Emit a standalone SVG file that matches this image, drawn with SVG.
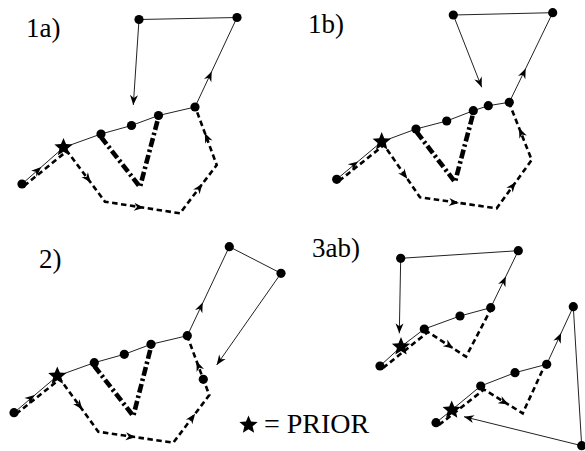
<svg xmlns="http://www.w3.org/2000/svg" xmlns:xlink="http://www.w3.org/1999/xlink" width="585" height="451" viewBox="0 0 585 451">
<style>
.thin{fill:none;stroke:#222;stroke-width:1}
.arrowed{marker-end:url(#arr)}
.dash{fill:none;stroke:#000;stroke-width:2.6;stroke-dasharray:5.5 3.5}
.dd{fill:none;stroke:#000;stroke-width:4.6;stroke-dasharray:9 3 2.5 3}
.ah{fill:none;stroke:none;marker-end:url(#arr)}
.dot{fill:#000}
.star{fill:#000}
</style>
<defs>
<marker id="arr" viewBox="-11 -5 12 10" refX="0" refY="0" markerWidth="12" markerHeight="10" markerUnits="userSpaceOnUse" orient="auto">
<path d="M0,0 L-10,-4 L-7,0 L-10,4 Z" fill="#000"/>
</marker>
<path id="star" d="M0,-8 L2.12,-2.91 L7.61,-2.47 L3.42,1.11 L4.7,6.47 L0,3.6 L-4.7,6.47 L-3.42,1.11 L-7.61,-2.47 L-2.12,-2.91 Z"/>
</defs>

<g id="labels" font-family="Liberation Serif, Times New Roman, DejaVu Serif, serif" font-size="27" fill="#000">
<text x="26" y="37">1a)</text>
<text x="308" y="33">1b)</text>
<text x="39" y="268">2)</text>
<text x="312" y="257">3ab)</text>
</g>

<g id="connectors">
<!-- 1a -->
<path class="thin arrowed" d="M22,184 L63.5,147.5 L101,134 L131.5,125.5 L158.5,115.5 L195,107 L237,17.5 L139,19.5 L133.3,105"/>
<path class="dash" d="M24,186 L67,151 L105,201.7 L180,213.3 L216.7,165 L196,109"/>
<path class="dd" d="M101,137 L140,187 L158.5,117"/>
<path class="ah" d="M40.5,167.8 L41.3,167.1"/>
<path class="ah" d="M211.3,72.3 L211.7,71.4"/>
<path class="ah" d="M90.1,181.8 L90.7,182.6"/>
<path class="ah" d="M143,207.6 L144,207.7"/>
<path class="ah" d="M201.8,184.6 L202.4,183.8"/>
<path class="ah" d="M205.2,133.8 L204.8,132.9"/>
<!-- 1b -->
<path class="thin arrowed" d="M336.7,179.3 L381.7,141.7 L416,129 L446.7,121 L473.3,110.7 L488.3,105.7 L509.3,102.3 L552.7,12.7 L453.3,15 L481.7,87.3"/>
<path class="dash" d="M339,181 L384,145 L420,197.3 L496.7,208.3 L531.7,160 L510,105"/>
<path class="dd" d="M416.7,132 L455,182 L473.3,113"/>
<path class="ah" d="M357.3,162 L358.1,161.4"/>
<path class="ah" d="M525.3,69.3 L525.7,68.4"/>
<path class="ah" d="M406.7,178 L407.3,178.8"/>
<path class="ah" d="M458,202.8 L459,202.9"/>
<path class="ah" d="M515,183 L515.6,182.2"/>
<path class="ah" d="M519.4,128.9 L519,128"/>
<!-- 2 -->
<path class="thin arrowed" d="M14,412.7 L57.3,376 L94.3,362.7 L124.3,354.3 L151,344.3 L187.3,335.7 L229.3,246.7 L281,273.3 L216.7,365"/>
<path class="dash" d="M16,414 L60,379 L98.3,431.7 L173.3,442.7 L209.3,395 L203.3,379.3 L188,338"/>
<path class="dd" d="M94.3,366 L133.3,416 L151,347"/>
<path class="ah" d="M34,395.7 L34.8,395.1"/>
<path class="ah" d="M202.3,303.3 L202.7,302.4"/>
<path class="ah" d="M81.7,408.8 L82.3,409.6"/>
<path class="ah" d="M134.7,437.1 L135.7,437.2"/>
<path class="ah" d="M194.5,414.6 L195.1,413.8"/>
<path class="ah" d="M197,362.2 L196.6,361.2"/>
<!-- 3ab upper -->
<path class="thin arrowed" d="M380,366 L401,346.7 L424.3,329 L460,316 L490.7,307.7 L518.3,250.7 L400.7,258.3 L399.3,333.3"/>
<path class="dash" d="M383,368 L428,332 L466,356.7 L490.5,310"/>
<path class="ah" d="M505.4,277.3 L505.8,276.4"/>
<path class="ah" d="M452.5,347.9 L453.4,348.5"/>
<!-- 3ab lower -->
<path class="thin arrowed" d="M436,422.7 L451.7,410 L480.7,386 L515,372.7 L546.7,364.3 L573.3,306.7 L581.7,445.7 L464,416.7"/>
<path class="dash" d="M439,425 L484,389.5 L522.7,413.3 L544,367"/>
<path class="ah" d="M560.7,334 L561.1,333.1"/>
<path class="ah" d="M507.5,404 L508.4,404.5"/>
</g>

<!-- 1a nodes -->
<g id="n1a-start"><circle class="dot" cx="22" cy="184" r="4.6"/></g>
<g id="n1a-prior"><use href="#star" class="star" transform="translate(63.5,147.5) scale(1.2)"/></g>
<g id="n1a-1"><circle class="dot" cx="101" cy="134" r="4.6"/></g>
<g id="n1a-2"><circle class="dot" cx="131.5" cy="125.5" r="4.6"/></g>
<g id="n1a-3"><circle class="dot" cx="158.5" cy="115.5" r="4.6"/></g>
<g id="n1a-4"><circle class="dot" cx="195" cy="107" r="4.6"/></g>
<g id="n1a-tr"><circle class="dot" cx="237" cy="17.5" r="4.6"/></g>
<g id="n1a-tl"><circle class="dot" cx="139" cy="19.5" r="4.6"/></g>

<!-- 1b nodes -->
<g id="n1b-start"><circle class="dot" cx="336.7" cy="179.3" r="4.6"/></g>
<g id="n1b-prior"><use href="#star" class="star" transform="translate(381.7,141.7) scale(1.2)"/></g>
<g id="n1b-1"><circle class="dot" cx="416" cy="129" r="4.6"/></g>
<g id="n1b-2"><circle class="dot" cx="446.7" cy="121" r="4.6"/></g>
<g id="n1b-3"><circle class="dot" cx="473.3" cy="110.7" r="4.6"/></g>
<g id="n1b-4"><circle class="dot" cx="488.3" cy="105.7" r="4.6"/></g>
<g id="n1b-5"><circle class="dot" cx="509.3" cy="102.3" r="4.6"/></g>
<g id="n1b-tr"><circle class="dot" cx="552.7" cy="12.7" r="4.6"/></g>
<g id="n1b-tl"><circle class="dot" cx="453.3" cy="15" r="4.6"/></g>

<!-- 2 nodes -->
<g id="n2-start"><circle class="dot" cx="14" cy="412.7" r="4.6"/></g>
<g id="n2-prior"><use href="#star" class="star" transform="translate(57.3,376) scale(1.2)"/></g>
<g id="n2-1"><circle class="dot" cx="94.3" cy="362.7" r="4.6"/></g>
<g id="n2-2"><circle class="dot" cx="124.3" cy="354.3" r="4.6"/></g>
<g id="n2-3"><circle class="dot" cx="151" cy="344.3" r="4.6"/></g>
<g id="n2-4"><circle class="dot" cx="187.3" cy="335.7" r="4.6"/></g>
<g id="n2-tl"><circle class="dot" cx="229.3" cy="246.7" r="4.6"/></g>
<g id="n2-r"><circle class="dot" cx="281" cy="273.3" r="4.6"/></g>
<g id="n2-x"><circle class="dot" cx="203.3" cy="379.3" r="4.6"/></g>

<!-- 3ab upper nodes -->
<g id="n3a-start"><circle class="dot" cx="380" cy="366" r="4.6"/></g>
<g id="n3a-prior"><use href="#star" class="star" transform="translate(401,346.7) scale(1.2)"/></g>
<g id="n3a-1"><circle class="dot" cx="424.3" cy="329" r="4.6"/></g>
<g id="n3a-2"><circle class="dot" cx="460" cy="316" r="4.6"/></g>
<g id="n3a-3"><circle class="dot" cx="490.7" cy="307.7" r="4.6"/></g>
<g id="n3a-tr"><circle class="dot" cx="518.3" cy="250.7" r="4.6"/></g>
<g id="n3a-tl"><circle class="dot" cx="400.7" cy="258.3" r="4.6"/></g>

<!-- 3ab lower nodes -->
<g id="n3b-start"><circle class="dot" cx="436" cy="422.7" r="4.6"/></g>
<g id="n3b-prior"><use href="#star" class="star" transform="translate(451.7,410) scale(1.2)"/></g>
<g id="n3b-1"><circle class="dot" cx="480.7" cy="386" r="4.6"/></g>
<g id="n3b-2"><circle class="dot" cx="515" cy="372.7" r="4.6"/></g>
<g id="n3b-3"><circle class="dot" cx="546.7" cy="364.3" r="4.6"/></g>
<g id="n3b-t"><circle class="dot" cx="573.3" cy="306.7" r="4.6"/></g>
<g id="n3b-br"><circle class="dot" cx="581.7" cy="445.7" r="4.6"/></g>

<!-- legend -->
<g id="legend">
<use href="#star" class="star" transform="translate(248.5,425) scale(1.2)"/>
<text x="264" y="433" font-family="Liberation Serif, Times New Roman, DejaVu Serif, serif" font-size="28" fill="#000">= PRIOR</text>
</g>
</svg>
